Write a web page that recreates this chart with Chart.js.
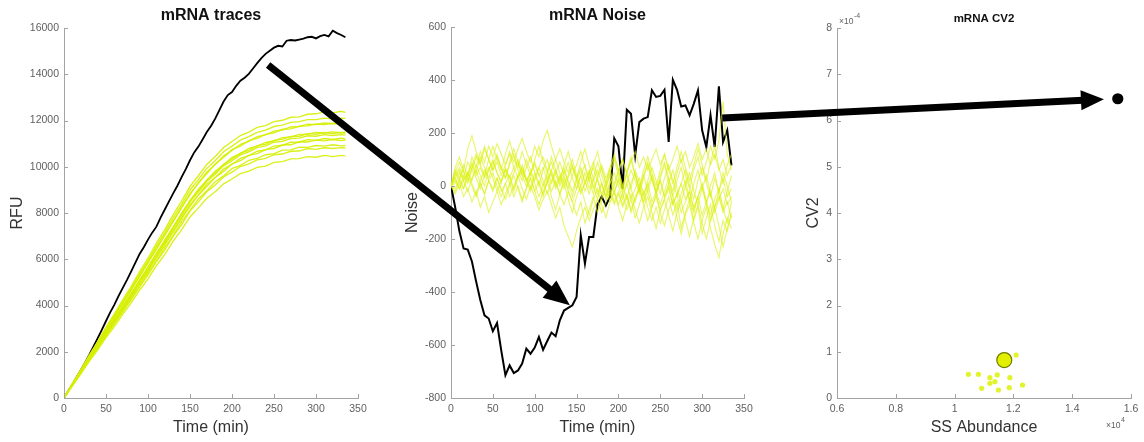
<!DOCTYPE html>
<html>
<head>
<meta charset="utf-8">
<script src="https://cdn.jsdelivr.net/npm/chart.js@4/dist/chart.umd.min.js"></script>
<style>
  html, body { margin: 0; padding: 0; background: #fff; }
  #wrap { position: relative; width: 1144px; height: 442px; overflow: hidden; background: #fff; }
  #wrap canvas { position: absolute; top: 0; }
</style>
</head>
<body>
<div id="wrap">
  <canvas id="traces" width="380" height="442" style="left:0px"></canvas>
  <canvas id="noise" width="380" height="442" style="left:380px"></canvas>
  <canvas id="cv2" width="384" height="442" style="left:760px"></canvas>
  <canvas id="arrows" width="1144" height="442" style="left:0px;pointer-events:none"></canvas>
</div>
<script>
// ---- sampling times (min) ----
const timeGrid = [0,5,10,15,20,25,30,35,40,45,50,55,60,65,70,75,80,85,90,95,100,105,110,115,120,125,130,135,140,145,150,155,160,165,170,175,180,185,190,195,200,205,210,215,220,225,230,235,240,245,250,255,260,265,270,275,280,285,290,295,300,305,310,315,320,325,330,335];
const cellTimeGrid = [0,10,20,30,40,50,60,70,80,90,100,110,120,130,140,150,160,170,180,190,200,210,220,230,240,250,260,270,280,290,300,310,320,330,335];

// ---- highlighted cell: mRNA trace (RFU) and its noise ----
const highlightTrace = [0,300,590,900,1200,1520,1860,2220,2580,2950,3330,3700,4040,4420,4760,5110,5480,5850,6230,6520,6850,7150,7410,7800,8150,8500,8850,9180,9550,9900,10280,10620,10870,11180,11500,11760,12080,12450,12820,13100,13230,13500,13720,13850,14020,14250,14480,14700,14880,15020,15150,15230,15200,15450,15480,15460,15500,15540,15600,15620,15550,15650,15700,15640,15880,15780,15700,15600];
const highlightNoise = [0,-80,-170,-236,-240,-285,-360,-430,-488,-500,-548,-517,-620,-714,-677,-706,-696,-670,-614,-633,-610,-570,-618,-585,-553,-567,-507,-470,-460,-450,-419,-186,-293,-192,-192,-70,-40,-73,-40,180,150,-10,288,273,116,241,254,260,361,336,340,363,166,401,363,300,304,267,310,361,210,147,267,147,376,166,210,78];

// ---- population cells: mRNA traces (RFU) on cellTimeGrid ----
const cellTraces = [
  [0,530,1040,1580,2070,2610,3090,3620,4110,4660,5150,5720,6210,6780,7270,7830,8220,8640,8920,9260,9470,9700,9810,9970,10030,10190,10220,10340,10350,10440,10410,10490,10440,10490,10470],
  [0,545,1075,1630,2140,2690,3190,3740,4240,4810,5320,5900,6410,7000,7500,8080,8480,8920,9210,9560,9770,10010,10120,10300,10360,10520,10550,10670,10680,10790,10750,10820,10790,10830,10810],
  [0,565,1110,1690,2220,2790,3300,3880,4390,4990,5500,6120,6630,7250,7760,8360,8770,9240,9530,9900,10110,10360,10480,10670,10730,10890,10930,11060,11070,11170,11140,11220,11180,11230,11200],
  [0,580,1135,1725,2270,2855,3380,3960,4495,5100,5630,6250,6780,7400,7940,8540,8960,9430,9740,10110,10330,10590,10710,10910,10970,11140,11180,11310,11320,11430,11400,11480,11430,11480,11450],
  [0,550,1125,1655,2235,2750,3325,3825,4410,4930,5520,6045,6650,7175,7780,8280,8780,9145,9540,9800,10120,10260,10490,10570,10740,10790,10940,10950,11080,11070,11150,11120,11180,11130,11150],
  [0,575,1130,1710,2255,2830,3360,3930,4465,5060,5590,6200,6740,7350,7890,8480,8900,9360,9680,10040,10260,10510,10640,10830,10900,11060,11100,11220,11240,11340,11320,11390,11350,11390,11370],
  [0,600,1180,1790,2355,2960,3510,4110,4660,5290,5840,6480,7030,7670,8220,8850,9280,9770,10090,10470,10710,10970,11100,11300,11380,11540,11590,11720,11740,11840,11820,11890,11860,11900,11880],
  [0,585,1195,1760,2375,2925,3530,4065,4690,5240,5860,6420,7060,7610,8250,8780,9310,9700,10120,10400,10740,10890,11130,11230,11400,11470,11620,11640,11760,11770,11850,11820,11880,11830,11860],
  [0,620,1220,1855,2440,3065,3635,4255,4830,5470,6045,6700,7280,7935,8510,9150,9610,10100,10440,10830,11090,11350,11500,11700,11780,11950,12010,12140,12160,12270,12290,12370,12330,12400,12350],
  [0,540,1100,1625,2190,2695,3255,3745,4320,4830,5410,5925,6515,7030,7625,8115,8610,8960,9350,9605,9920,10060,10280,10360,10520,10570,10720,10730,10850,10840,10920,10890,10950,10900,10920],
  [0,570,1155,1710,2300,2835,3420,3945,4540,5080,5680,6230,6840,7385,8000,8525,9030,9410,9810,10090,10410,10570,10790,10890,11050,11120,11260,11290,11400,11410,11480,11460,11510,11470,11490],
  [0,610,1200,1820,2395,3010,3570,4180,4745,5375,5940,6580,7150,7800,8360,8995,9440,9930,10260,10650,10890,11150,11300,11490,11580,11740,11800,11920,11950,12040,12040,12100,12070,12100,12090]
];

// ---- population cells: noise (RFU) on timeGrid ----
const cellNoise = [
  [0,40,70,30,90,60,110,80,140,100,60,90,40,80,120,70,30,60,20,50,90,40,70,20,60,100,50,10,40,80,30,-20,10,50,-10,30,-40,0,40,-20,20,-30,10,-50,-10,30,-30,10,-60,-20,20,-40,0,-70,-30,10,-50,-20,-90,-40,0,-60,-20,-100,-50,-10,-70,-40],
  [0,-30,10,-40,-10,-60,-20,-80,-40,-100,-60,-20,-70,-30,10,-40,0,-50,-10,30,-20,20,-30,10,50,0,40,-10,30,70,20,60,10,50,90,40,80,30,70,110,60,100,50,90,130,70,110,60,100,140,80,120,60,100,150,90,130,70,110,160,100,140,80,120,60,100,40,80],
  [0,50,20,80,40,110,70,130,90,150,110,160,120,80,130,90,140,180,130,90,150,110,170,210,150,100,140,90,50,100,40,0,50,-10,30,-30,10,-50,-10,-60,-20,-70,-30,-90,-40,-10,-60,-20,-80,-30,-90,-50,-10,-70,-30,-100,-60,-20,-80,-40,-110,-60,-130,-80,-40,-100,-60,-120],
  [0,20,-10,40,10,60,30,-10,40,70,30,-20,20,60,10,50,90,40,0,50,10,-40,0,40,-20,20,-30,-70,-20,-60,-110,-60,-140,-90,-40,-100,-50,-10,-60,-20,-70,-30,-90,-50,-120,-70,-20,-80,-130,-80,-140,-90,-40,-110,-60,-160,-100,-50,-130,-80,-180,-120,-70,-150,-210,-130,-170,-100],
  [0,60,30,-10,50,20,80,40,0,60,100,50,10,70,30,-20,40,80,30,-10,50,10,-40,20,60,10,-30,30,-20,-60,-10,40,-20,30,70,20,-30,10,60,0,50,100,40,-10,60,10,-40,20,70,20,-30,30,80,20,-40,10,60,0,-50,20,70,10,-40,30,-20,50,0,-60],
  [0,70,110,60,140,190,130,90,150,100,60,110,70,30,80,120,60,20,70,110,50,0,60,100,40,-10,30,70,10,-40,20,-30,10,60,0,-50,10,-40,20,-30,30,-20,50,-10,-60,0,40,-20,30,-30,20,-40,10,60,-10,-60,0,50,-20,-70,-10,40,-30,-80,-20,30,-40,-10],
  [0,30,60,20,50,80,40,70,30,60,90,50,20,60,30,70,100,60,20,50,80,40,0,50,90,40,10,60,20,-20,30,70,20,-30,20,60,10,-40,10,50,0,-50,10,60,20,-30,30,80,20,-20,40,90,30,-20,50,100,40,-10,60,110,40,90,150,100,170,320,120,60],
  [0,-20,20,-10,30,0,-40,10,-30,20,-10,30,-20,10,-40,0,40,-10,-50,0,-40,-90,-50,-20,-70,-120,-80,-150,-190,-230,-170,-120,-80,-130,-90,-50,-100,-60,-20,-70,-30,-80,-40,-100,-50,-10,-70,-130,-80,-40,-100,-150,-90,-50,-120,-180,-110,-70,-140,-200,-130,-80,-160,-220,-270,-180,-120,-160],
  [0,10,50,20,-20,30,60,10,-30,20,50,0,-40,10,40,-10,30,70,20,-20,30,70,20,-30,20,60,0,40,90,30,-10,40,80,20,-30,30,70,10,-40,10,60,0,-50,10,50,-10,-60,0,40,-20,-70,-20,30,-40,-90,-30,20,-50,-100,-40,10,-60,-110,-50,-10,-80,-140,-60],
  [0,-10,30,60,30,90,50,110,70,30,80,120,70,30,90,140,90,40,100,60,20,70,110,60,10,50,90,40,-10,40,80,130,70,20,80,130,60,10,70,120,60,0,50,110,40,-20,40,90,30,-30,30,80,10,-40,20,70,0,-60,10,60,-10,-70,0,50,-30,-90,-20,40],
  [0,30,-10,20,50,10,-30,20,60,20,-20,30,-10,-50,0,40,-10,-60,-10,30,-20,-70,-20,20,-40,-90,-30,10,-50,-100,-40,0,-60,-110,-50,-10,-70,-120,-60,-20,-80,-130,-70,-30,-90,-140,-80,-40,-100,-160,-90,-50,-110,-170,-100,-60,-130,-190,-120,-70,-140,-200,-130,-80,-150,-230,-160,-110],
  [0,50,90,50,20,70,120,80,40,100,150,100,60,120,170,110,70,130,80,40,100,150,90,50,110,60,20,80,130,70,30,90,140,80,30,90,40,-10,50,100,40,-10,50,100,40,-10,60,110,50,0,60,120,60,10,70,130,70,20,80,140,80,20,90,150,70,10,80,120]
];

// ---- steady-state abundance (RFU) vs CV2 ----
const cellAbundance = [10470,10810,11200,11450,11200,11370,11880,11860,12310,10920,11490,12090];
const cellCV2 = [0.512e-4,0.512e-4,0.44e-4,0.50e-4,0.317e-4,0.353e-4,0.44e-4,0.223e-4,0.281e-4,0.209e-4,0.173e-4,0.93e-4];
const meanAbundance = [11690];
const meanCV2 = [0.82e-4];
const highlightAbundance = [15550];
const highlightCV2 = [6.47e-4];

// ---- styling ----
const AXIS = '#a3a3a3';
const TICK_TEXT = '#5f5f5f';
const LABEL_TEXT = '#333333';
const FONT = "'Liberation Sans', Arial, sans-serif";
const YELLOW = 'rgba(214,240,0,0.9)';
const YELLOW_PALE = 'rgba(218,240,10,0.62)';

const pairs = (xs, ys) => ys.map((v, i) => ({ x: xs[i], y: v }));

// MATLAB-style inward tick marks plus optional "x10^n" exponent labels
const axisDecor = {
  id: 'axisDecor',
  afterDatasetsDraw(chart, args, opts) {
    const ctx = chart.ctx;
    const xs = chart.scales.x, ys = chart.scales.y;
    const area = chart.chartArea;
    ctx.save();
    ctx.strokeStyle = AXIS;
    ctx.lineWidth = 1;
    const len = 4;
    xs.ticks.forEach((t, i) => {
      const px = Math.round(xs.getPixelForTick(i)) + 0.5;
      ctx.beginPath(); ctx.moveTo(px, area.bottom); ctx.lineTo(px, area.bottom - len); ctx.stroke();
    });
    ys.ticks.forEach((t, i) => {
      const py = Math.round(ys.getPixelForTick(i)) + 0.5;
      ctx.beginPath(); ctx.moveTo(area.left, py); ctx.lineTo(area.left + len, py); ctx.stroke();
    });
    const expo = (x, y, e) => {
      ctx.fillStyle = TICK_TEXT;
      ctx.textBaseline = 'alphabetic';
      ctx.textAlign = 'left';
      ctx.font = '8.5px ' + FONT;
      ctx.fillText('\u00d710', x, y);
      const w = ctx.measureText('\u00d710').width;
      ctx.font = '7px ' + FONT;
      ctx.fillText(e, x + w + 0.5, y - 6);
    };
    if (opts.yExp) expo(area.left + 2, area.top - 4, opts.yExp);
    if (opts.xExp) expo(area.right - 25, area.bottom + 30, opts.xExp);
    ctx.restore();
  }
};

function axisOptions(cfg) {
  return {
    responsive: false,
    animation: false,
    devicePixelRatio: 1,
    events: [],
    layout: { padding: { left: 0, right: cfg.padRight, top: 0, bottom: 0 } },
    plugins: {
      legend: { display: false },
      tooltip: { enabled: false },
      title: {
        display: true,
        text: cfg.title,
        fullSize: false,
        color: '#111',
        font: { family: FONT, size: cfg.titleSize, weight: 'bold' },
        padding: { top: cfg.titleTop, bottom: cfg.titleBottom }
      },
      axisDecor: { yExp: cfg.yExp, xExp: cfg.xExp }
    },
    scales: {
      x: {
        type: 'linear',
        min: cfg.xMin, max: cfg.xMax,
        afterFit: s => { s.height = 44; },
        grid: { display: false, drawTicks: false },
        border: { display: true, color: AXIS, width: 1 },
        ticks: {
          stepSize: cfg.xStep, padding: 5, color: TICK_TEXT, maxRotation: 0, autoSkip: false,
          font: { family: FONT, size: 10.5 },
          callback: cfg.xFmt || (v => v)
        },
        title: {
          display: true, text: cfg.xTitle, color: LABEL_TEXT,
          font: { family: FONT, size: 16 },
          padding: { top: 0, bottom: 4.4 }
        }
      },
      y: {
        type: 'linear',
        min: cfg.yMin, max: cfg.yMax,
        afterFit: s => { s.width = cfg.yWidth; },
        grid: { display: false, drawTicks: false },
        border: { display: true, color: AXIS, width: 1 },
        ticks: {
          stepSize: cfg.yStep, padding: 5, color: TICK_TEXT, autoSkip: false,
          font: { family: FONT, size: 10.5 },
          callback: cfg.yFmt || (v => v)
        },
        title: {
          display: true, text: cfg.yTitle, color: LABEL_TEXT,
          font: { family: FONT, size: 16 },
          padding: { top: cfg.yTitlePad, bottom: 0 }
        }
      }
    }
  };
}

// ---- panel 1: mRNA traces ----
const tracesChart = new Chart(document.getElementById('traces'), {
  type: 'line',
  data: {
    datasets: [
      ...cellTraces.map(tr => ({
        data: pairs(cellTimeGrid, tr), borderColor: YELLOW, borderWidth: 1.35,
        pointRadius: 0, tension: 0, fill: false
      })),
      { data: pairs(timeGrid, highlightTrace), borderColor: '#000', borderWidth: 1.8, pointRadius: 0, tension: 0, fill: false }
    ]
  },
  options: axisOptions({
    title: 'mRNA traces', titleSize: 16, titleTop: 6.4, titleBottom: 2.4, padRight: 22,
    xMin: 0, xMax: 350, xStep: 50, yMin: 0, yMax: 16000, yStep: 2000,
    xTitle: 'Time (min)', yTitle: 'RFU', yWidth: 64, yTitlePad: 8.4
  }),
  plugins: [axisDecor]
});

// ---- panel 2: mRNA noise ----
const noiseChart = new Chart(document.getElementById('noise'), {
  type: 'line',
  data: {
    datasets: [
      ...cellNoise.map(tr => ({
        data: pairs(timeGrid, tr), borderColor: YELLOW_PALE, borderWidth: 1.1,
        pointRadius: 0, tension: 0, fill: false
      })),
      { data: pairs(timeGrid, highlightNoise), borderColor: '#000', borderWidth: 2, pointRadius: 0, tension: 0, fill: false }
    ]
  },
  options: axisOptions({
    title: 'mRNA Noise', titleSize: 16, titleTop: 6.4, titleBottom: 1.4, padRight: 16,
    xMin: 0, xMax: 350, xStep: 50, yMin: -800, yMax: 600, yStep: 200,
    xTitle: 'Time (min)', yTitle: 'Noise', yWidth: 71, yTitlePad: 23.4
  }),
  plugins: [axisDecor]
});

// ---- panel 3: CV2 vs steady-state abundance ----
const cv2Chart = new Chart(document.getElementById('cv2'), {
  type: 'scatter',
  data: {
    datasets: [
      { data: pairs(cellAbundance, cellCV2), backgroundColor: 'rgba(222,242,20,0.9)', borderWidth: 0, pointRadius: 2.6 },
      { data: pairs(meanAbundance, meanCV2), backgroundColor: '#e2f000', borderColor: '#6f7a00', borderWidth: 1.2, pointRadius: 7.5 },
      { data: pairs(highlightAbundance, highlightCV2), backgroundColor: '#000', borderColor: '#000', borderWidth: 0, pointRadius: 5.6 }
    ]
  },
  options: axisOptions({
    title: 'mRNA CV2', titleSize: 11.5, titleTop: 12.1, titleBottom: 2.1, padRight: 13,
    xMin: 6000, xMax: 16000, xStep: 2000, yMin: 0, yMax: 8e-4, yStep: 1e-4,
    xTitle: 'SS Abundance', yTitle: 'CV2', yWidth: 77, yTitlePad: 44.4,
    xFmt: v => String(Math.round(v / 1000) / 10),
    yFmt: v => String(Math.round(v * 1e4)),
    yExp: '-4', xExp: '4'
  }),
  plugins: [axisDecor]
});

// ---- connecting arrows, anchored in data coordinates of each panel ----
const arrowLinks = [
  { from: { chart: tracesChart, x: 243, y: 14400 }, to: { chart: noiseChart, x: 142, y: -450 }, head: 26, half: 11 },
  { from: { chart: noiseChart, x: 324, y: 257 }, to: { chart: cv2Chart, x: 15080, y: 6.46e-4 }, head: 23, half: 10 }
];

function pagePoint(a) {
  const c = a.chart;
  const off = c.canvas.offsetLeft;
  return { x: off + c.scales.x.getPixelForValue(a.x), y: c.scales.y.getPixelForValue(a.y) };
}

function drawArrow(ctx, p0, p1, width, headLen, half) {
  const dx = p1.x - p0.x, dy = p1.y - p0.y;
  const L = Math.hypot(dx, dy), ux = dx / L, uy = dy / L;
  const bx = p1.x - ux * headLen, by = p1.y - uy * headLen;
  ctx.lineWidth = width;
  ctx.lineCap = 'butt';
  ctx.beginPath();
  ctx.moveTo(p0.x, p0.y);
  ctx.lineTo(bx + ux * 2, by + uy * 2);
  ctx.stroke();
  ctx.beginPath();
  ctx.moveTo(p1.x, p1.y);
  ctx.lineTo(bx - uy * half, by + ux * half);
  ctx.lineTo(bx + uy * half, by - ux * half);
  ctx.closePath();
  ctx.fill();
}

const actx = document.getElementById('arrows').getContext('2d');
actx.fillStyle = '#000';
actx.strokeStyle = '#000';
arrowLinks.forEach(l => drawArrow(actx, pagePoint(l.from), pagePoint(l.to), 7, l.head, l.half));
</script>
</body>
</html>
